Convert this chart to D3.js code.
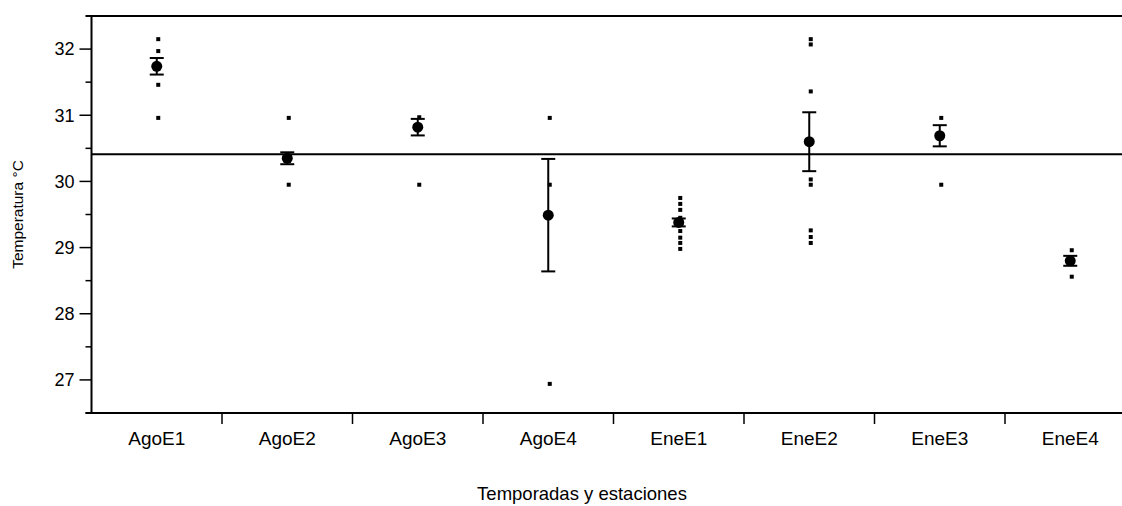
<!DOCTYPE html>
<html>
<head>
  <meta charset="utf-8">
  <title>Temperatura por temporada y estación</title>
  <script src="https://cdnjs.cloudflare.com/ajax/libs/d3/7.8.5/d3.min.js"></script>
  <style>
    body {
      margin: 0;
      background: #fff;
      font-family: "Liberation Sans", Arial, sans-serif;
    }
    .y-label {
      font-size: 18px;
      fill: #000;
    }
    .x-label {
      font-size: 19px;
      fill: #000;
    }
    .x-title {
      font-size: 18.5px;
      fill: #000;
    }
    .y-title {
      font-size: 15.5px;
      fill: #000;
    }
  </style>
</head>
<body>
  <div id="chart"></div>

  <script>
    // Data
    const categories = ["AgoE1", "AgoE2", "AgoE3", "AgoE4", "EneE1", "EneE2", "EneE3", "EneE4"];
    const means = [31.74, 30.35, 30.82, 29.49, 29.38, 30.60, 30.69, 28.80];
    const stdErrors = [0.125, 0.09, 0.125, 0.85, 0.06, 0.445, 0.16, 0.075];
    const observations = [
      [32.15, 31.97, 31.46, 30.96],
      [30.96, 29.95],
      [30.97, 29.95],
      [30.96, 29.95, 26.94],
      [29.75, 29.66, 29.57, 29.45, 29.25, 29.15, 29.07, 28.98],
      [32.15, 32.07, 31.36, 30.03, 29.95, 29.26, 29.16, 29.07],
      [30.96, 29.95],
      [28.96, 28.56]
    ];
    const grandMean = 30.41;
    const yTicks = [27, 28, 29, 30, 31, 32];
    const yMinorTicks = [26.5, 27.5, 28.5, 29.5, 30.5, 31.5];

    // Layout
    const width = 1122;
    const height = 506;
    const plotLeft = 91.5;
    const plotTop = 16;
    const plotBottom = 413;
    const bandWidth = 130.5;

    const svg = d3.select("#chart")
      .append("svg")
      .attr("width", width)
      .attr("height", height);

    svg.append("rect")
      .attr("width", width)
      .attr("height", height)
      .attr("fill", "#fff");

    const x = d3.scaleBand()
      .domain(categories)
      .range([plotLeft, plotLeft + bandWidth * categories.length])
      .paddingInner(0)
      .paddingOuter(0);

    const y = d3.scaleLinear()
      .domain([26.5, 32.5])
      .range([plotBottom, plotTop]);

    const cx = d => x(d) + x.bandwidth() / 2;

    // Frame lines: top border, x axis, y axis
    svg.append("line")
      .attr("x1", plotLeft - 6).attr("x2", width)
      .attr("y1", plotTop).attr("y2", plotTop)
      .attr("stroke", "#000").attr("stroke-width", 2);

    svg.append("line")
      .attr("x1", plotLeft - 6).attr("x2", width)
      .attr("y1", plotBottom).attr("y2", plotBottom)
      .attr("stroke", "#000").attr("stroke-width", 2);

    svg.append("line")
      .attr("x1", plotLeft).attr("x2", plotLeft)
      .attr("y1", plotTop).attr("y2", plotBottom)
      .attr("stroke", "#000").attr("stroke-width", 2);

    // Y axis ticks
    const yAxis = svg.append("g");
    yAxis.selectAll(".major")
      .data(yTicks)
      .enter().append("line")
      .attr("class", "major")
      .attr("x1", plotLeft - 12).attr("x2", plotLeft)
      .attr("y1", d => y(d)).attr("y2", d => y(d))
      .attr("stroke", "#000").attr("stroke-width", 1.5);

    yAxis.selectAll(".minor")
      .data(yMinorTicks)
      .enter().append("line")
      .attr("class", "minor")
      .attr("x1", plotLeft - 6).attr("x2", plotLeft)
      .attr("y1", d => y(d)).attr("y2", d => y(d))
      .attr("stroke", "#000").attr("stroke-width", 1.5);

    yAxis.selectAll("text")
      .data(yTicks)
      .enter().append("text")
      .attr("class", "y-label")
      .attr("x", plotLeft - 17)
      .attr("y", d => y(d))
      .attr("dy", "0.35em")
      .attr("text-anchor", "end")
      .text(d => d);

    // X axis ticks at band boundaries
    const xAxis = svg.append("g");
    xAxis.selectAll("line")
      .data(categories.slice(1))
      .enter().append("line")
      .attr("x1", d => x(d)).attr("x2", d => x(d))
      .attr("y1", plotBottom).attr("y2", plotBottom + 11)
      .attr("stroke", "#000").attr("stroke-width", 1.5);

    xAxis.selectAll("text")
      .data(categories)
      .enter().append("text")
      .attr("class", "x-label")
      .attr("x", d => cx(d))
      .attr("y", 445)
      .attr("text-anchor", "middle")
      .text(d => d);

    // Axis titles
    svg.append("text")
      .attr("class", "x-title")
      .attr("x", 582)
      .attr("y", 500)
      .attr("text-anchor", "middle")
      .text("Temporadas y estaciones");

    svg.append("text")
      .attr("class", "y-title")
      .attr("transform", `translate(23, ${(plotTop + plotBottom) / 2}) rotate(-90)`)
      .attr("text-anchor", "middle")
      .text("Temperatura °C");

    // Grand mean reference line
    svg.append("line")
      .attr("x1", plotLeft).attr("x2", width)
      .attr("y1", y(grandMean)).attr("y2", y(grandMean))
      .attr("stroke", "#000").attr("stroke-width", 2);

    // Individual observations
    const points = [];
    categories.forEach((c, i) => {
      observations[i].forEach(v => points.push({ cat: c, value: v }));
    });

    svg.append("g")
      .selectAll("rect")
      .data(points)
      .enter().append("rect")
      .attr("x", d => cx(d.cat) + 1.5 - 2)
      .attr("y", d => y(d.value) - 2)
      .attr("width", 4)
      .attr("height", 4)
      .attr("fill", "#000");

    // Mean with error bars
    const groups = categories.map((c, i) => ({ cat: c, mean: means[i], se: stdErrors[i] }));

    const eb = svg.append("g")
      .selectAll("g")
      .data(groups)
      .enter().append("g");

    eb.append("line")
      .attr("x1", d => cx(d.cat)).attr("x2", d => cx(d.cat))
      .attr("y1", d => y(d.mean + d.se)).attr("y2", d => y(d.mean - d.se))
      .attr("stroke", "#000").attr("stroke-width", 2);

    eb.append("line")
      .attr("x1", d => cx(d.cat) - 7).attr("x2", d => cx(d.cat) + 7)
      .attr("y1", d => y(d.mean + d.se)).attr("y2", d => y(d.mean + d.se))
      .attr("stroke", "#000").attr("stroke-width", 2);

    eb.append("line")
      .attr("x1", d => cx(d.cat) - 7).attr("x2", d => cx(d.cat) + 7)
      .attr("y1", d => y(d.mean - d.se)).attr("y2", d => y(d.mean - d.se))
      .attr("stroke", "#000").attr("stroke-width", 2);

    eb.append("circle")
      .attr("cx", d => cx(d.cat))
      .attr("cy", d => y(d.mean))
      .attr("r", 5.5)
      .attr("fill", "#000");
  </script>
</body>
</html>
